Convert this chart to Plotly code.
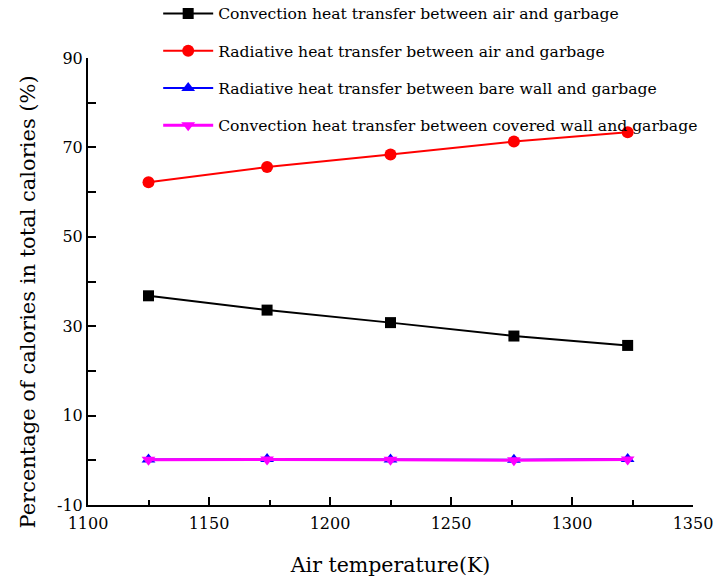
import plotly.graph_objects as go

air_temp = [1125, 1174, 1225, 1276, 1323]
conv_air = [36.8, 33.6, 30.8, 27.8, 25.7]
rad_air = [62.2, 65.6, 68.4, 71.3, 73.4]
rad_bare_wall = [0.2, 0.3, 0.2, 0.1, 0.3]
conv_covered_wall = [0.1, 0.2, 0.1, 0.0, 0.2]

x_tick_vals = [1100, 1150, 1200, 1250, 1300, 1350]
x_tick_text = ["1100", "1150", "1200", "1250", "1300", "1350"]
y_tick_vals = [-10, 10, 30, 50, 70, 90]
y_tick_text = ["-10", "10", "30", "50", "70", "90"]

names = [
    "Convection heat transfer between air and garbage",
    "Radiative heat transfer between air and garbage",
    "Radiative heat transfer between bare wall and garbage",
    "Convection heat transfer between covered wall and garbage",
]
series = [conv_air, rad_air, rad_bare_wall, conv_covered_wall]
colors = ["#000000", "#ff0000", "#0000ff", "#ff00ff"]
symbols = ["square", "circle", "triangle-up", "triangle-down"]
sizes = [11, 12, 12, 12]
widths = [2, 2, 2, 3]

FONT = "DejaVu Serif"

fig = go.Figure()
for i in range(4):
    fig.add_trace(go.Scatter(
        x=air_temp, y=series[i], name=names[i], mode="lines+markers",
        line=dict(color=colors[i], width=widths[i]),
        marker=dict(symbol=symbols[i], size=sizes[i], color=colors[i]),
        legendgroup=f"g{i}",
    ))

fig.add_annotation(
    text="Percentage of calories in total calories (%)",
    xref="paper", yref="paper", x=0, y=0.5, xanchor="center", yanchor="middle",
    xshift=-61, yshift=-21, textangle=-90, showarrow=False,
    font=dict(family=FONT, size=21, color="black"),
)

fig.update_layout(
    width=715, height=583,
    margin=dict(l=88, r=22, t=58, b=78, autoexpand=False),
    plot_bgcolor="white", paper_bgcolor="white",
    font=dict(family=FONT, size=16, color="black"),
    showlegend=True,
    legend=dict(
        x=0.116, y=1.137, xanchor="left", yanchor="top",
        bgcolor="rgba(0,0,0,0)", font=dict(family=FONT, size=15.6),
        tracegroupgap=14, itemwidth=50,
    ),
    xaxis=dict(
        range=[1100, 1350], tickmode="array", tickvals=x_tick_vals, ticktext=x_tick_text,
        showline=True, linecolor="black", linewidth=2,
        ticks="inside", ticklen=8, tickwidth=1.5, tickcolor="black",
        minor=dict(tickmode="linear", dtick=25, tick0=1100, ticks="inside", ticklen=5, tickwidth=1.5, tickcolor="black"),
        showgrid=False, zeroline=False,
        title=dict(text="Air temperature(K)", font=dict(family=FONT, size=20.5), standoff=25),
        tickfont=dict(family=FONT, size=16),
        ticklabelstandoff=3,
    ),
    yaxis=dict(
        range=[-10, 90], tickmode="array", tickvals=y_tick_vals, ticktext=y_tick_text,
        showline=True, linecolor="black", linewidth=2,
        ticks="inside", ticklen=8, tickwidth=1.5, tickcolor="black",
        minor=dict(tickmode="linear", dtick=10, tick0=-10, ticks="inside", ticklen=8, tickwidth=1.5, tickcolor="black"),
        showgrid=False, zeroline=False,
        tickfont=dict(family=FONT, size=16),
    ),
)

fig.write_html(
    "out.html",
    config={"displayModeBar": False},
    post_script="document.body.style.margin='0';document.documentElement.style.overflow='hidden';document.body.style.overflow='hidden';",
)
